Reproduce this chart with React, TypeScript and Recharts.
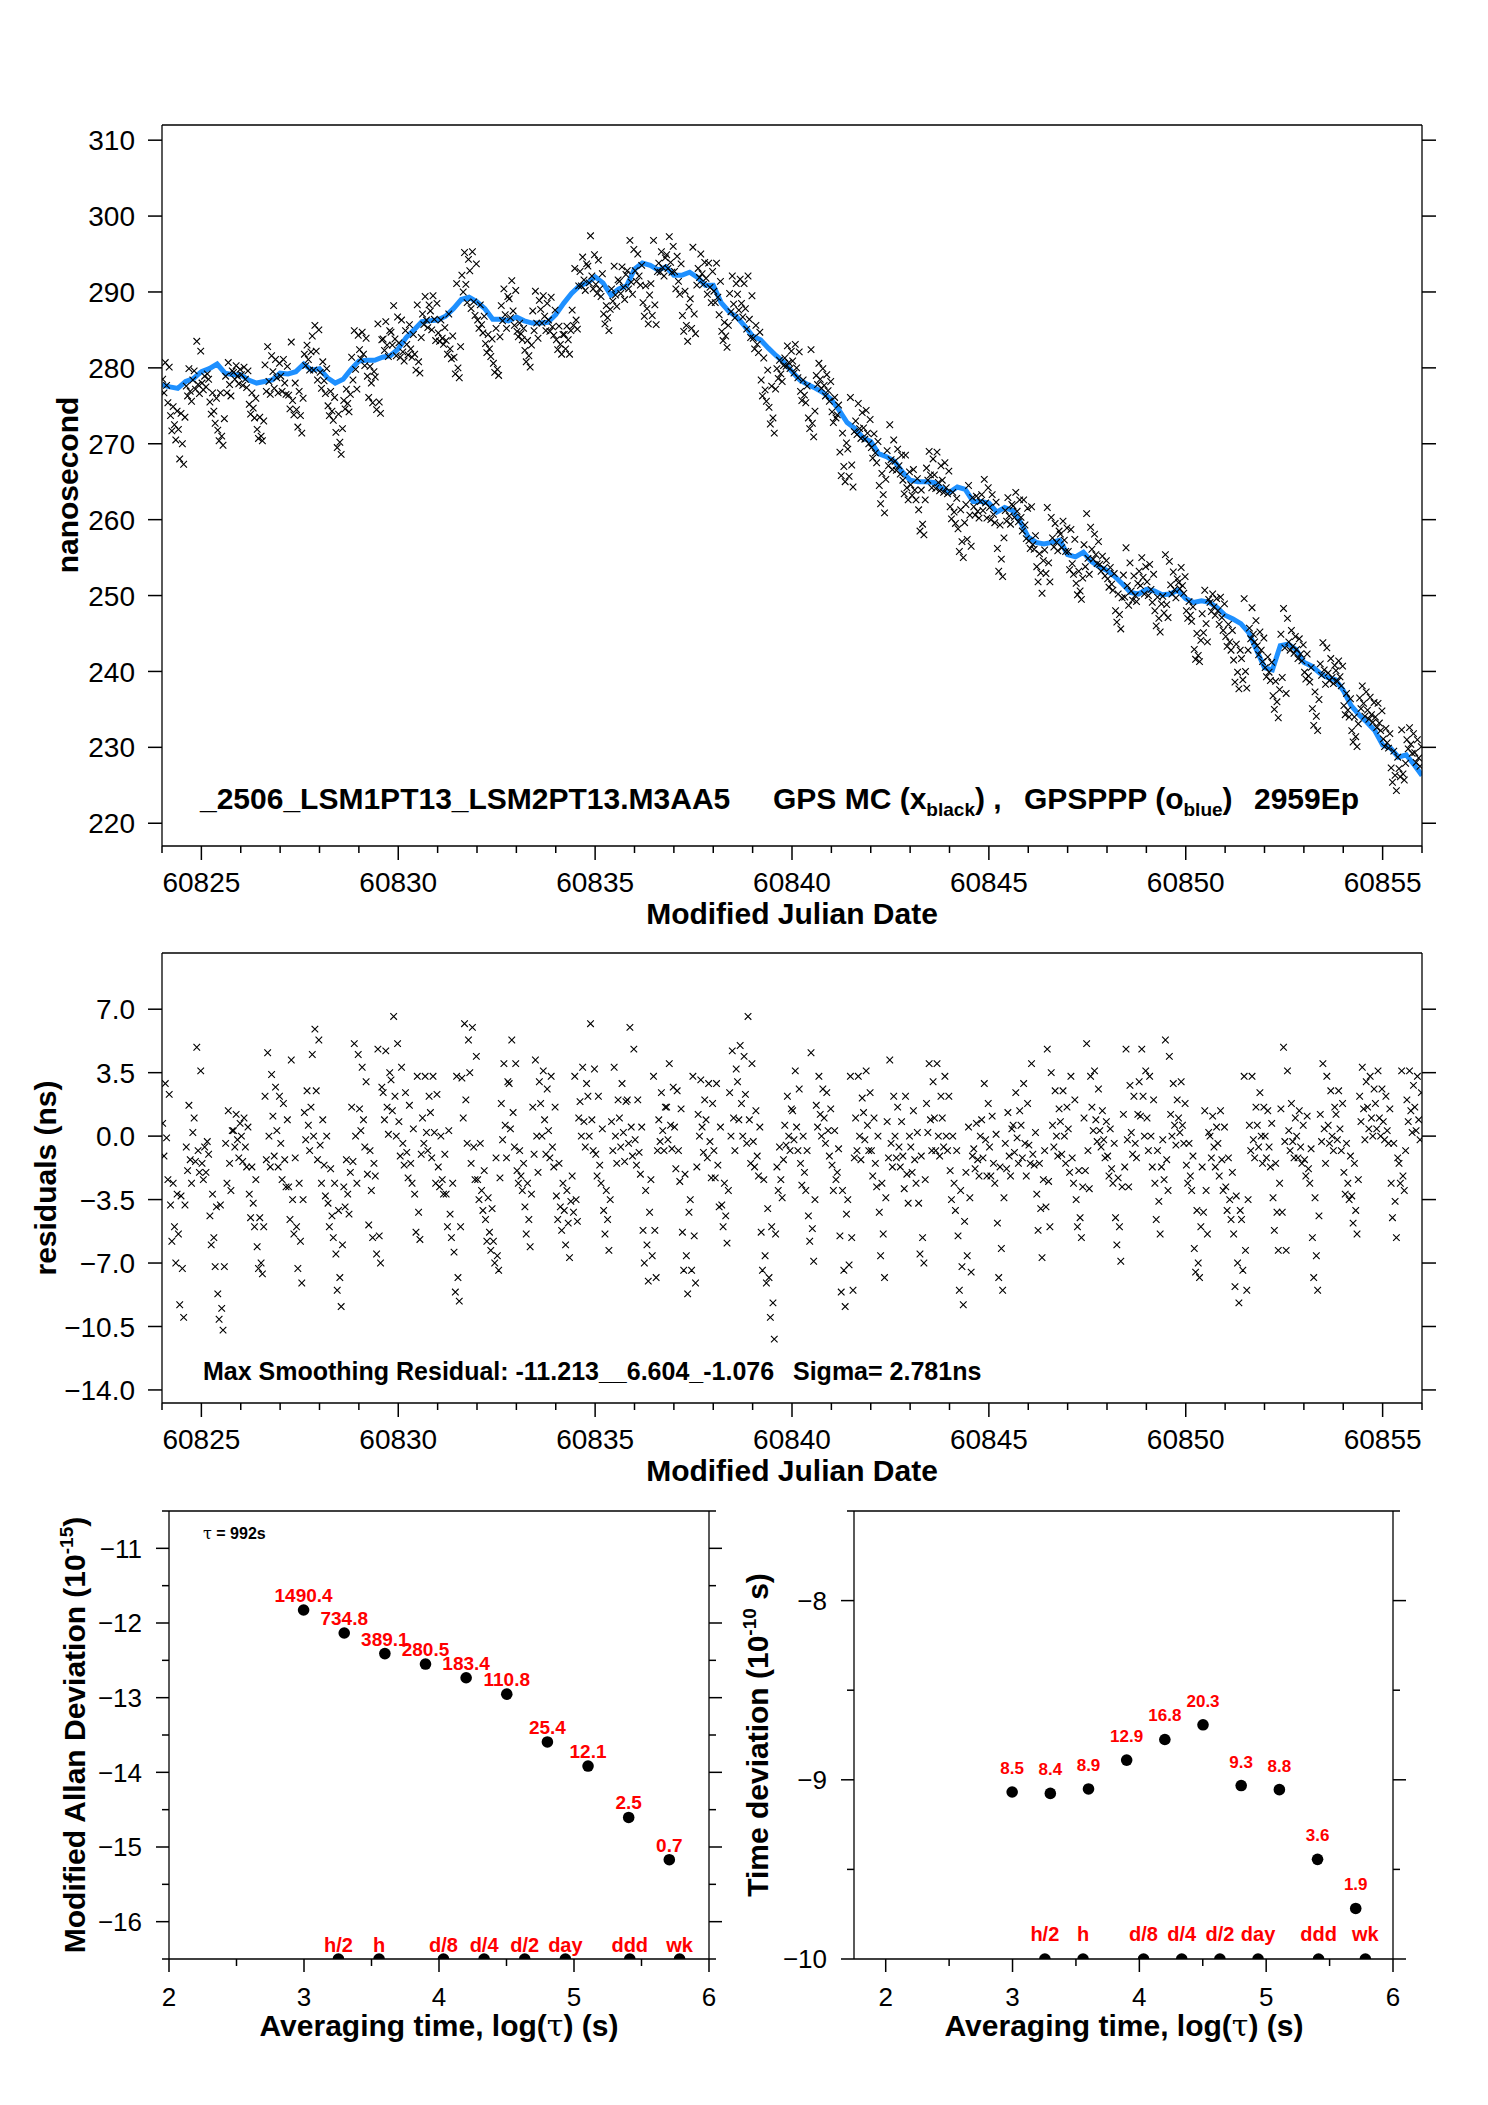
import React from "react";
import { ComposedChart, Scatter, Line, XAxis, YAxis } from "recharts";

const FONT = "'Liberation Sans', Arial, Helvetica, sans-serif";

// time axis (MJD)
const mjdTicks = [
  60824, 60825, 60826, 60827, 60828, 60829, 60830, 60831, 60832, 60833, 60834,
  60835, 60836, 60837, 60838, 60839, 60840, 60841, 60842, 60843, 60844, 60845,
  60846, 60847, 60848, 60849, 60850, 60851, 60852, 60853, 60854, 60855, 60856,
];
const nsTicks = [220, 230, 240, 250, 260, 270, 280, 290, 300, 310];
const residTicks = [-14, -10.5, -7, -3.5, 0, 3.5, 7];

// smoothed GPSPPP curve, one value every 0.2 day from 60824.0
const mjdStart = 60824;
const blockDays = 0.2;
const smoothNs = [
  277.8, 277.5, 277.3, 278.2, 278.6,
  279.5, 279.9, 280.5, 279.3, 279.1,
  279.1, 278.4, 278.0, 278.2, 278.4,
  279.3, 279.2, 279.5, 280.5, 279.7,
  279.9, 278.7, 278.0, 278.5, 279.8,
  280.9, 281.0, 281.0, 281.4, 281.6,
  282.5, 284.0, 285.0, 286.1, 286.2,
  286.3, 286.8, 287.8, 289.0, 289.3,
  288.7, 287.8, 286.4, 286.4, 286.2,
  286.7, 286.2, 285.9, 285.9, 286.0,
  287.0, 288.5, 289.8, 290.8, 291.2,
  292.0, 291.2, 289.6, 290.4, 290.8,
  293.0, 293.8, 293.5, 292.9, 293.3,
  292.2, 292.2, 292.6, 291.9, 290.9,
  290.9, 288.6, 287.4, 286.7, 285.5,
  284.2, 283.7, 282.6, 281.6, 280.7,
  279.5, 278.4, 277.8, 277.3, 276.7,
  275.8, 274.4, 272.8, 272.0, 270.8,
  270.3, 268.7, 268.3, 267.7, 266.3,
  265.2, 265.0, 265.0, 264.9, 264.2,
  263.6, 264.3, 264.0, 262.4, 262.4,
  262.2, 261.0, 261.6, 261.2, 259.7,
  257.7, 257.0, 256.8, 257.0, 257.3,
  255.4, 255.1, 255.7, 254.5, 253.8,
  253.3, 252.5, 251.5, 250.4, 250.2,
  250.8, 250.6, 250.1, 250.2, 250.7,
  249.6, 249.1, 249.3, 249.1, 248.4,
  247.4, 246.9, 246.3, 245.1, 242.8,
  240.5, 240.2, 243.4, 243.6, 242.9,
  241.2, 240.7, 239.8, 239.2, 238.9,
  237.5, 235.5, 234.3, 233.3, 232.2,
  230.3, 229.9, 228.7, 229.0, 227.7,
  226.3,
];

// smoothing residuals (ns), 6 epochs per 0.2-day block, one row per day
const perBlock = 6;
// position of each listed epoch inside its block
const slotOrder = [2, 5, 0, 3, 1, 4];
const residualsNs = [
  2.9,2.3,0.7,-0.1,-1.1,-2.4, -2.6,-3.2,-3.8,-5.0,-5.8,-7.0, -3.3,-3.8,-5.4,-7.3,-9.3,-10.0, 1.7,0.2,-0.6,-1.3,-1.9,-2.6, 4.9,3.6,1.0,-0.8,-1.4,-2.0,
  -0.6,-1.0,-1.5,-2.0,-2.4,-0.3, -3.2,-3.9,-4.4,-5.6,-6.0,-7.2, -3.8,-7.2,-8.7,-9.5,-10.1,-10.7, 1.4,0.3,-0.4,-1.5,-2.6,-3.0, 1.2,0.7,0.3,-0.2,-0.6,-1.2,
  1.0,0.5,0.0,-0.6,-1.4,-1.7, -1.7,-2.4,-3.2,-3.7,-4.5,-5.0, -4.5,-5.0,-6.1,-7.0,-7.3,-7.6, 4.6,3.4,2.2,0.0,-1.3,-1.7, 2.7,2.2,1.1,0.3,-1.1,-1.7,
  1.8,0.9,-0.4,-1.3,-2.4,-2.8, 4.2,-1.2,-2.8,-3.5,-4.6,-5.4, -2.6,-3.5,-5.0,-5.8,-7.3,-8.1, 2.5,1.6,1.3,0.6,-0.2,-0.8, 5.9,5.3,4.5,2.5,0.0,-1.3,
  0.9,0.0,-0.5,-1.6,-2.6,-3.3, -1.8,-2.6,-3.7,-4.4,-5.0,-5.6, -4.1,-6.0,-6.5,-7.8,-8.5,-9.4, -1.3,-2.0,-2.8,-3.2,-3.9,-4.3, 5.1,4.5,1.6,0.0,-1.4,-2.6,
  3.8,3.0,1.5,0.9,0.3,-0.6, -0.8,-1.5,-2.1,-3.0,-4.9,-5.6, 4.8,2.7,-2.2,-5.5,-6.5,-7.0, 4.7,3.5,2.4,1.6,0.9,0.1, 6.6,5.1,3.1,2.2,1.4,0.0,
  3.8,2.4,0.8,-0.4,-1.1,-1.6, 1.7,0.4,-0.9,-1.5,-2.3,-2.6, 3.3,-1.0,-3.2,-4.2,-5.3,-5.7, 3.3,2.2,1.0,0.2,-0.4,-0.8, 3.3,2.3,1.3,0.2,-1.2,-2.6,
  0.0,-1.0,-1.7,-2.4,-2.8,-3.2, 0.3,-2.6,-3.2,-4.3,-5.0,-5.6, 3.3,-5.0,-6.4,-7.8,-8.6,-9.1, 6.2,5.3,3.2,2.0,1.0,-0.4, 6.0,4.4,3.5,-0.6,-1.5,-2.4,
  -0.4,-1.9,-2.4,-3.0,-3.5,-4.1, -3.4,-4.0,-4.6,-5.3,-5.8,-6.3, -1.2,-2.3,-5.8,-6.6,-7.0,-7.4, 4.0,3.0,1.8,0.6,-0.2,-1.2, 5.3,4.0,2.9,1.3,0.4,-0.6,
  -0.8,-1.5,-1.9,-2.2,-2.6,-3.0, -2.6,-3.2,-3.9,-4.6,-5.4,-6.1, 4.2,3.0,1.6,0.0,-1.0,-2.0, 3.6,2.6,1.8,0.9,0.0,-1.0, 3.3,1.6,0.3,-0.6,-1.2,-1.7,
  -1.5,-2.6,-3.3,-3.9,-4.6,-5.2, -3.0,-3.6,-4.1,-4.8,-6.0,-6.7, 3.3,1.0,-2.2,-3.5,-4.2,-4.7, 3.8,2.9,1.9,0.8,0.0,-0.6, 6.2,3.7,2.2,0.9,0.0,-0.8,
  2.2,0.4,-1.0,-1.6,-2.2,-2.6, -3.0,-3.5,-4.1,-4.6,-5.4,-6.3, 3.8,2.0,0.8,0.0,-0.8,-1.5, 2.9,1.9,1.0,0.2,-0.6,-1.4, 6.0,4.8,2.0,0.5,-0.4,-1.1,
  2.0,0.5,-0.2,-0.9,-1.6,-2.1, -3.0,-4.2,-5.2,-6.0,-7.0,-8.0, 3.3,-0.8,-2.4,-5.2,-6.6,-7.8, 2.4,1.6,0.9,0.3,-0.3,-0.8, 4.0,2.7,1.6,0.6,-0.2,-0.7,
  2.5,1.5,0.5,-0.8,-1.8,-2.5, -2.1,-4.2,-5.3,-6.6,-7.4,-8.7, 3.3,-1.7,-3.5,-5.5,-7.4,-8.1, 3.1,2.0,1.2,0.5,0.0,-0.9, 2.9,1.8,0.9,-0.3,-1.2,-2.3,
  2.9,0.5,-0.8,-1.6,-2.3,-3.9, -2.6,-3.0,-3.8,-4.4,-5.0,-5.9, 4.7,3.7,2.4,1.0,0.0,-0.8, 5.0,4.4,3.0,1.8,0.9,0.0, 6.6,4.0,2.3,0.9,-0.4,-1.5,
  1.4,0.5,-0.3,-1.1,-1.7,-2.2, -2.4,-4.0,-5.3,-6.6,-7.4,-8.1, -5.0,-5.4,-7.8,-9.2,-10.0,-11.2, -0.6,-1.3,-1.7,-2.4,-3.0,-3.4, 2.2,1.5,0.6,0.0,-0.5,-0.8,
  3.6,2.6,1.4,0.5,-0.2,-0.8, 0.0,-0.8,-1.5,-2.0,-2.7,-3.0, 4.6,-3.5,-4.4,-5.1,-5.8,-6.9, 3.3,2.6,1.7,1.2,0.5,0.0, 2.4,1.5,1.0,0.3,-0.4,-1.1,
  0.3,-0.7,-1.6,-2.4,-3.0,-2.0, -3.0,-4.3,-5.5,-7.4,-8.6,-9.4, 3.3,-1.2,-3.5,-5.6,-7.1,-8.5, 3.3,2.1,1.0,0.0,-0.8,-1.3, 3.6,2.4,1.3,0.6,-0.2,-0.8,
  1.0,0.0,-0.8,-1.5,-2.2,-2.8, -2.6,-3.4,-4.2,-5.4,-6.6,-7.8, 4.2,2.2,0.8,-0.4,-1.2,-1.7, 1.6,0.8,0.0,-0.6,-1.2,-1.7, 2.2,0.0,-1.1,-2.1,-2.9,-3.7,
  1.4,0.2,-0.6,-1.3,-2.0,-2.6, -1.1,-2.4,-3.7,-5.6,-6.5,-7.0, 4.0,3.0,1.8,0.9,0.2,-0.8, 4.0,2.2,1.0,0.0,-0.8,-1.1, 3.3,2.2,1.0,0.0,-0.6,-0.8,
  0.0,-0.8,-1.9,-2.6,-3.5,-4.1, -3.0,-4.7,-5.5,-7.2,-8.5,-9.3, 0.5,-1.1,-2.0,-3.4,-6.6,-7.5, 0.7,0.0,-0.7,-1.3,-1.8,-2.2, 2.9,1.8,0.9,-0.2,-1.2,-2.2,
  1.1,0.1,-0.6,-1.5,-2.2,-2.6, -1.7,-3.4,-4.8,-6.2,-7.8,-8.5, 1.3,0.4,-0.4,-1.1,-1.8,-2.2, 2.4,1.4,0.6,-0.1,-0.9,-1.5, 2.9,1.8,0.6,-0.4,-1.2,-2.2,
  4.0,0.2,-0.5,-1.0,-1.5,-1.6, -1.5,-2.4,-3.2,-4.0,-5.2,-6.7, 4.8,3.5,-0.8,-2.5,-3.9,-5.0, 2.5,1.5,0.6,0.0,-0.6,-1.1, 2.5,1.6,0.8,0.0,-1.0,-1.5,
  3.3,2.0,0.4,-1.2,-2.0,-2.6, -1.9,-2.8,-3.5,-4.5,-5.0,-5.6, 5.1,3.3,1.0,-0.8,-1.9,-2.9, 3.6,2.6,1.6,0.9,0.3,-0.3, 1.4,0.8,0.3,-0.2,-0.6,-1.2,
  0.4,-0.4,-1.1,-1.8,-2.2,-2.6, -2.3,-2.8,-4.5,-5.0,-6.0,-6.9, 4.8,2.8,1.2,-0.2,-1.7,-2.8, 2.2,1.2,0.2,-0.4,-1.0,-1.2, 4.8,3.6,3.0,2.2,1.1,0.0,
  3.3,2.0,1.0,0.0,-0.8,-1.7, -0.8,-1.7,-2.6,-3.6,-4.6,-5.4, 5.3,4.4,-0.2,-1.3,-2.4,-3.0, 2.9,2.0,1.2,0.6,0.0,-0.5, 3.0,1.8,1.0,0.6,0.2,-0.4,
  -0.4,-1.1,-1.6,-2.2,-2.6,-3.0, -4.1,-5.0,-6.2,-7.0,-7.5,-7.8, 1.4,0.2,-1.7,-3.0,-4.2,-5.4, 1.1,0.5,0.0,-0.6,-1.2,-1.7, 1.4,0.5,-0.4,-1.3,-2.2,-3.0,
  -1.2,-2.0,-2.8,-3.5,-4.1,-4.6, -3.3,-4.1,-5.4,-7.0,-8.3,-9.2, 3.3,-3.5,-4.6,-6.3,-7.4,-8.5, 3.3,1.6,0.6,-0.2,-0.8,-1.2, 2.4,1.6,0.6,0.0,-0.6,-1.5,
  1.4,0.7,0.0,-0.6,-1.2,-1.7, -1.5,-2.6,-3.4,-4.2,-5.2,-6.3, 4.9,3.6,1.5,-0.3,-4.2,-6.3, 1.8,1.0,0.3,-0.3,-0.8,-1.2, 1.4,0.6,0.0,-0.6,-1.2,-1.5,
  1.1,-0.7,-1.3,-1.8,-2.2,-2.6, -3.4,-4.4,-5.6,-6.6,-7.8,-8.5, 4.0,3.3,1.2,0.4,-0.3,-1.5, 2.5,1.6,0.6,0.0,-0.4,-0.8, 2.5,1.8,1.2,0.4,-0.2,-0.8,
  -0.4,-1.1,-2.0,-2.6,-3.2,-3.5, -1.5,-2.4,-3.3,-4.1,-4.8,-5.4, 3.8,3.0,2.2,1.5,0.8,-0.2, 3.3,2.6,1.6,1.0,0.4,0.0, 3.6,2.6,1.8,1.0,0.4,0.0,
  2.2,1.5,0.8,0.3,-0.2,-0.4, -0.4,-1.2,-2.6,-3.6,-4.5,-5.6, 3.6,-0.8,-1.5,-2.2,-2.6,-3.0, 3.6,2.8,2.0,1.4,0.8,0.2, 3.3,2.4,1.6,0.9,0.3,-0.2,
];

// stability panels
const logTauTicks = [2, 2.5, 3, 3.5, 4, 4.5, 5, 5.5, 6];
const madevTicks = [-16.5, -16, -15.5, -15, -14.5, -14, -13.5, -13, -12.5, -12, -11.5, -11, -10.5];
const tdevTicks = [-10, -9.5, -9, -8.5, -8, -7.5];
const logTau = [2.997, 3.298, 3.599, 3.9, 4.201, 4.502, 4.803, 5.104, 5.405, 5.706];
const logMadev = [-11.826, -12.134, -12.41, -12.55, -12.733, -12.953, -13.593, -13.916, -14.604, -15.17];
const madevLabels = ["1490.4", "734.8", "389.1", "280.5", "183.4", "110.8", "25.4", "12.1", "2.5", "0.7"];
const logTdev = [-9.068, -9.076, -9.051, -8.89, -8.775, -8.693, -9.032, -9.055, -9.444, -9.718];
const tdevLabels = ["8.5", "8.4", "8.9", "12.9", "16.8", "20.3", "9.3", "8.8", "3.6", "1.9"];
const markLogTau = [3.255, 3.556, 4.033, 4.334, 4.635, 4.936, 5.413, 5.782];
const markNames = ["h/2", "h", "d/8", "d/4", "d/2", "day", "ddd", "wk"];

const smoothPts = smoothNs.map((v, i) => ({ t: mjdStart + i * blockDays, v }));
const epochT = (k: number) =>
  mjdStart +
  Math.floor(k / perBlock) * blockDays +
  (slotOrder[k % perBlock] + 0.5) * (blockDays / perBlock);
const residPts = residualsNs.map((r, k) => ({ t: epochT(k), v: r }));
const rawPts = residualsNs.map((r, k) => ({ t: epochT(k), v: smoothNs[Math.floor(k / perBlock)] + r }));

const madevPts = logTau.map((x, i) => ({ x, y: logMadev[i], lab: madevLabels[i] }));
const tdevPts = logTau.map((x, i) => ({ x, y: logTdev[i], lab: tdevLabels[i] }));
const madevMarks = markLogTau.map((x, i) => ({ x, y: -16.5, lab: markNames[i] }));
const tdevMarks = markLogTau.map((x, i) => ({ x, y: -10, lab: markNames[i] }));

const tickStroke = { stroke: "#000", strokeWidth: 1.5 };
const axisLine = { stroke: "#000", strokeWidth: 1.3 };

function makeTick(
  side: "bottom" | "top" | "left" | "right",
  isMajor: (v: number) => boolean,
  fmt: ((v: number) => string) | null,
  majorLen: number,
  minorLen: number,
  fontSize = 28,
  off = 46
) {
  return (p: any) => {
    const x = p.x;
    const y = p.y;
    const v = p.payload.value;
    const major = isMajor(v);
    const len = major ? majorLen : minorLen;
    const label = fmt && major ? fmt(v) : null;
    if (side === "bottom")
      return (
        <g>
          <line x1={x} y1={y} x2={x} y2={y + len} {...tickStroke} />
          {label && (
            <text x={x} y={y + off} textAnchor="middle" fontSize={fontSize} fontFamily={FONT} fill="#000">
              {label}
            </text>
          )}
        </g>
      );
    if (side === "top") return <line x1={x} y1={y} x2={x} y2={y - len} {...tickStroke} />;
    if (side === "left")
      return (
        <g>
          <line x1={x - len} y1={y} x2={x} y2={y} {...tickStroke} />
          {label && (
            <text x={x - off} y={y + fontSize * 0.36} textAnchor="end" fontSize={fontSize} fontFamily={FONT} fill="#000">
              {label}
            </text>
          )}
        </g>
      );
    return <line x1={x} y1={y} x2={x + len} y2={y} {...tickStroke} />;
  };
}

const minus = (s: string) => s.replace("-", "\u2212");
const isFive = (v: number) => v % 5 === 0;
const always = () => true;
const isInt = (v: number) => Number.isInteger(v);

const Cross = (p: any) => {
  const { cx, cy } = p;
  if (cx == null || cy == null) return <g />;
  const s = 3.3;
  return (
    <path
      d={`M${cx - s},${cy - s}L${cx + s},${cy + s}M${cx - s},${cy + s}L${cx + s},${cy - s}`}
      stroke="#000"
      strokeWidth={1.1}
      fill="none"
    />
  );
};

const dotWithLabel = (dy: number, fontSize: number) => (p: any) => {
  const { cx, cy, payload } = p;
  if (cx == null || cy == null) return <g />;
  return (
    <g>
      <circle cx={cx} cy={cy} r={5.8} fill="#000" />
      <text x={cx} y={cy - dy} textAnchor="middle" fontSize={fontSize} fontWeight="bold" fontFamily={FONT} fill="#ff0000">
        {payload.lab}
      </text>
    </g>
  );
};

const W = 1488;
const H = 2105;

function axes(
  xKey: string,
  yKey: string,
  xDomain: number[],
  yDomain: number[],
  xTicks: number[],
  yTicks: number[],
  xMajor: (v: number) => boolean,
  yMajor: (v: number) => boolean,
  xFmt: (v: number) => string,
  yFmt: (v: number) => string,
  majorLen: number,
  minorLen: number,
  fontSize: number,
  xOff: number,
  yOff: number
) {
  return [
    <XAxis
      key="xb"
      xAxisId="b"
      type="number"
      dataKey={xKey}
      domain={xDomain}
      allowDataOverflow
      ticks={xTicks}
      interval={0}
      height={1}
      tickSize={0}
      tickMargin={0}
      tickLine={false}
      axisLine={axisLine}
      tick={makeTick("bottom", xMajor, xFmt, majorLen, minorLen, fontSize, xOff)}
    />,
    <XAxis
      key="xt"
      xAxisId="t"
      orientation="top"
      type="number"
      domain={xDomain}
      allowDataOverflow
      ticks={xTicks}
      interval={0}
      height={1}
      tickSize={0}
      tickMargin={0}
      tickLine={false}
      axisLine={axisLine}
      tick={makeTick("top", xMajor, null, majorLen, minorLen)}
    />,
    <YAxis
      key="yl"
      yAxisId="l"
      type="number"
      dataKey={yKey}
      domain={yDomain}
      allowDataOverflow
      ticks={yTicks}
      interval={0}
      width={1}
      tickSize={0}
      tickMargin={0}
      tickLine={false}
      axisLine={axisLine}
      tick={makeTick("left", yMajor, yFmt, majorLen, minorLen, fontSize, yOff)}
    />,
    <YAxis
      key="yr"
      yAxisId="r"
      orientation="right"
      type="number"
      domain={yDomain}
      allowDataOverflow
      ticks={yTicks}
      interval={0}
      width={1}
      tickSize={0}
      tickMargin={0}
      tickLine={false}
      axisLine={axisLine}
      tick={makeTick("right", yMajor, null, majorLen, minorLen)}
    />,
  ];
}

const layer: React.CSSProperties = { position: "absolute", left: 0, top: 0 };

export default function App() {
  const bold = { fontFamily: FONT, fontWeight: "bold" as const, fill: "#000" };
  return (
    <div style={{ position: "relative", width: W, height: H, background: "#fff" }}>
      <style>{"body{margin:0}"}</style>

      {/* phase data */}
      <div style={layer}>
        <ComposedChart width={W} height={H} margin={{ top: 124, left: 161, right: 65, bottom: 1258 }}>
          {axes("t", "v", [60824, 60856], [217, 312], mjdTicks, nsTicks, isFive, always, (v) => String(v), (v) => String(v), 14, 7, 28, 46, 27)}
          <Scatter data={rawPts} xAxisId="b" yAxisId="l" shape={Cross} isAnimationActive={false} />
          <Line
            data={smoothPts}
            dataKey="v"
            xAxisId="b"
            yAxisId="l"
            type="linear"
            stroke="#1e90ff"
            strokeWidth={5}
            dot={false}
            isAnimationActive={false}
          />
        </ComposedChart>
      </div>

      {/* residuals */}
      <div style={layer}>
        <ComposedChart width={W} height={H} margin={{ top: 952, left: 161, right: 65, bottom: 701 }}>
          {axes("t", "v", [60824, 60856], [-14.72, 10.1], mjdTicks, residTicks, isFive, always, (v) => String(v), (v) => minus(v.toFixed(1)), 14, 7, 28, 46, 27)}
          <Scatter data={residPts} xAxisId="b" yAxisId="l" shape={Cross} isAnimationActive={false} />
        </ComposedChart>
      </div>

      {/* modified Allan deviation */}
      <div style={layer}>
        <ComposedChart width={W} height={H} margin={{ top: 1510, left: 168, right: 778, bottom: 145 }}>
          {axes("x", "y", [2, 6], [-16.5, -10.5], logTauTicks, madevTicks, isInt, isInt, (v) => String(v), (v) => minus(String(v)), 13, 7, 26, 47, 27)}
          <Scatter data={madevPts} xAxisId="b" yAxisId="l" shape={dotWithLabel(8, 19)} isAnimationActive={false} />
          <Scatter data={madevMarks} xAxisId="b" yAxisId="l" shape={dotWithLabel(7, 20)} isAnimationActive={false} />
        </ComposedChart>
      </div>

      {/* time deviation */}
      <div style={layer}>
        <ComposedChart width={W} height={H} margin={{ top: 1510, left: 853, right: 94, bottom: 145 }}>
          {axes("x", "y", [1.75, 6], [-10, -7.5], logTauTicks, tdevTicks, isInt, isInt, (v) => String(v), (v) => minus(String(v)), 13, 7, 26, 47, 27)}
          <Scatter data={tdevPts} xAxisId="b" yAxisId="l" shape={dotWithLabel(18, 17)} isAnimationActive={false} />
          <Scatter data={tdevMarks} xAxisId="b" yAxisId="l" shape={dotWithLabel(18, 20)} isAnimationActive={false} />
        </ComposedChart>
      </div>

      {/* titles and notes */}
      <svg width={W} height={H} style={{ ...layer, pointerEvents: "none" }}>
        <text x={78} y={485} transform="rotate(-90 78 485)" textAnchor="middle" fontSize={30} {...bold}>
          nanosecond
        </text>
        <text x={200} y={809} fontSize={30} {...bold}>
          _2506_LSM1PT13_LSM2PT13.M3AA5
        </text>
        <text x={773} y={809} fontSize={30} {...bold}>
          GPS MC (x<tspan fontSize={19} dy={7}>black</tspan>
          <tspan dy={-7}>) ,</tspan>
        </text>
        <text x={1024} y={809} fontSize={30} {...bold}>
          GPSPPP (o<tspan fontSize={19} dy={7}>blue</tspan>
          <tspan dy={-7}>)</tspan>
        </text>
        <text x={1254} y={809} fontSize={30} {...bold}>
          2959Ep
        </text>
        <text x={792} y={924} textAnchor="middle" fontSize={30} {...bold}>
          Modified Julian Date
        </text>

        <text x={56} y={1178} transform="rotate(-90 56 1178)" textAnchor="middle" fontSize={30} {...bold}>
          residuals (ns)
        </text>
        <text x={203} y={1380} fontSize={25} {...bold}>
          Max Smoothing Residual: -11.213__6.604_-1.076
        </text>
        <text x={793} y={1380} fontSize={25} {...bold}>
          Sigma= 2.781ns
        </text>
        <text x={792} y={1481} textAnchor="middle" fontSize={30} {...bold}>
          Modified Julian Date
        </text>

        <text x={203} y={1539} fontSize={16} {...bold}>
          <tspan fontFamily="'DejaVu Serif', serif" fontWeight="normal">τ</tspan> = 992s
        </text>
        <text x={85} y={1735} transform="rotate(-90 85 1735)" textAnchor="middle" fontSize={30} {...bold}>
          Modified Allan Deviation (10<tspan fontSize={19} dy={-12}>-15</tspan>
          <tspan dy={12}>)</tspan>
        </text>
        <text x={439} y={2036} textAnchor="middle" fontSize={30} {...bold}>
          Averaging time, log(<tspan fontFamily="'DejaVu Serif', serif" fontWeight="normal">τ</tspan>) (s)
        </text>

        <text x={768} y={1735} transform="rotate(-90 768 1735)" textAnchor="middle" fontSize={30} {...bold}>
          Time deviation (10<tspan fontSize={19} dy={-12}>-10</tspan>
          <tspan dy={12}> s)</tspan>
        </text>
        <text x={1124} y={2036} textAnchor="middle" fontSize={30} {...bold}>
          Averaging time, log(<tspan fontFamily="'DejaVu Serif', serif" fontWeight="normal">τ</tspan>) (s)
        </text>
      </svg>
    </div>
  );
}
